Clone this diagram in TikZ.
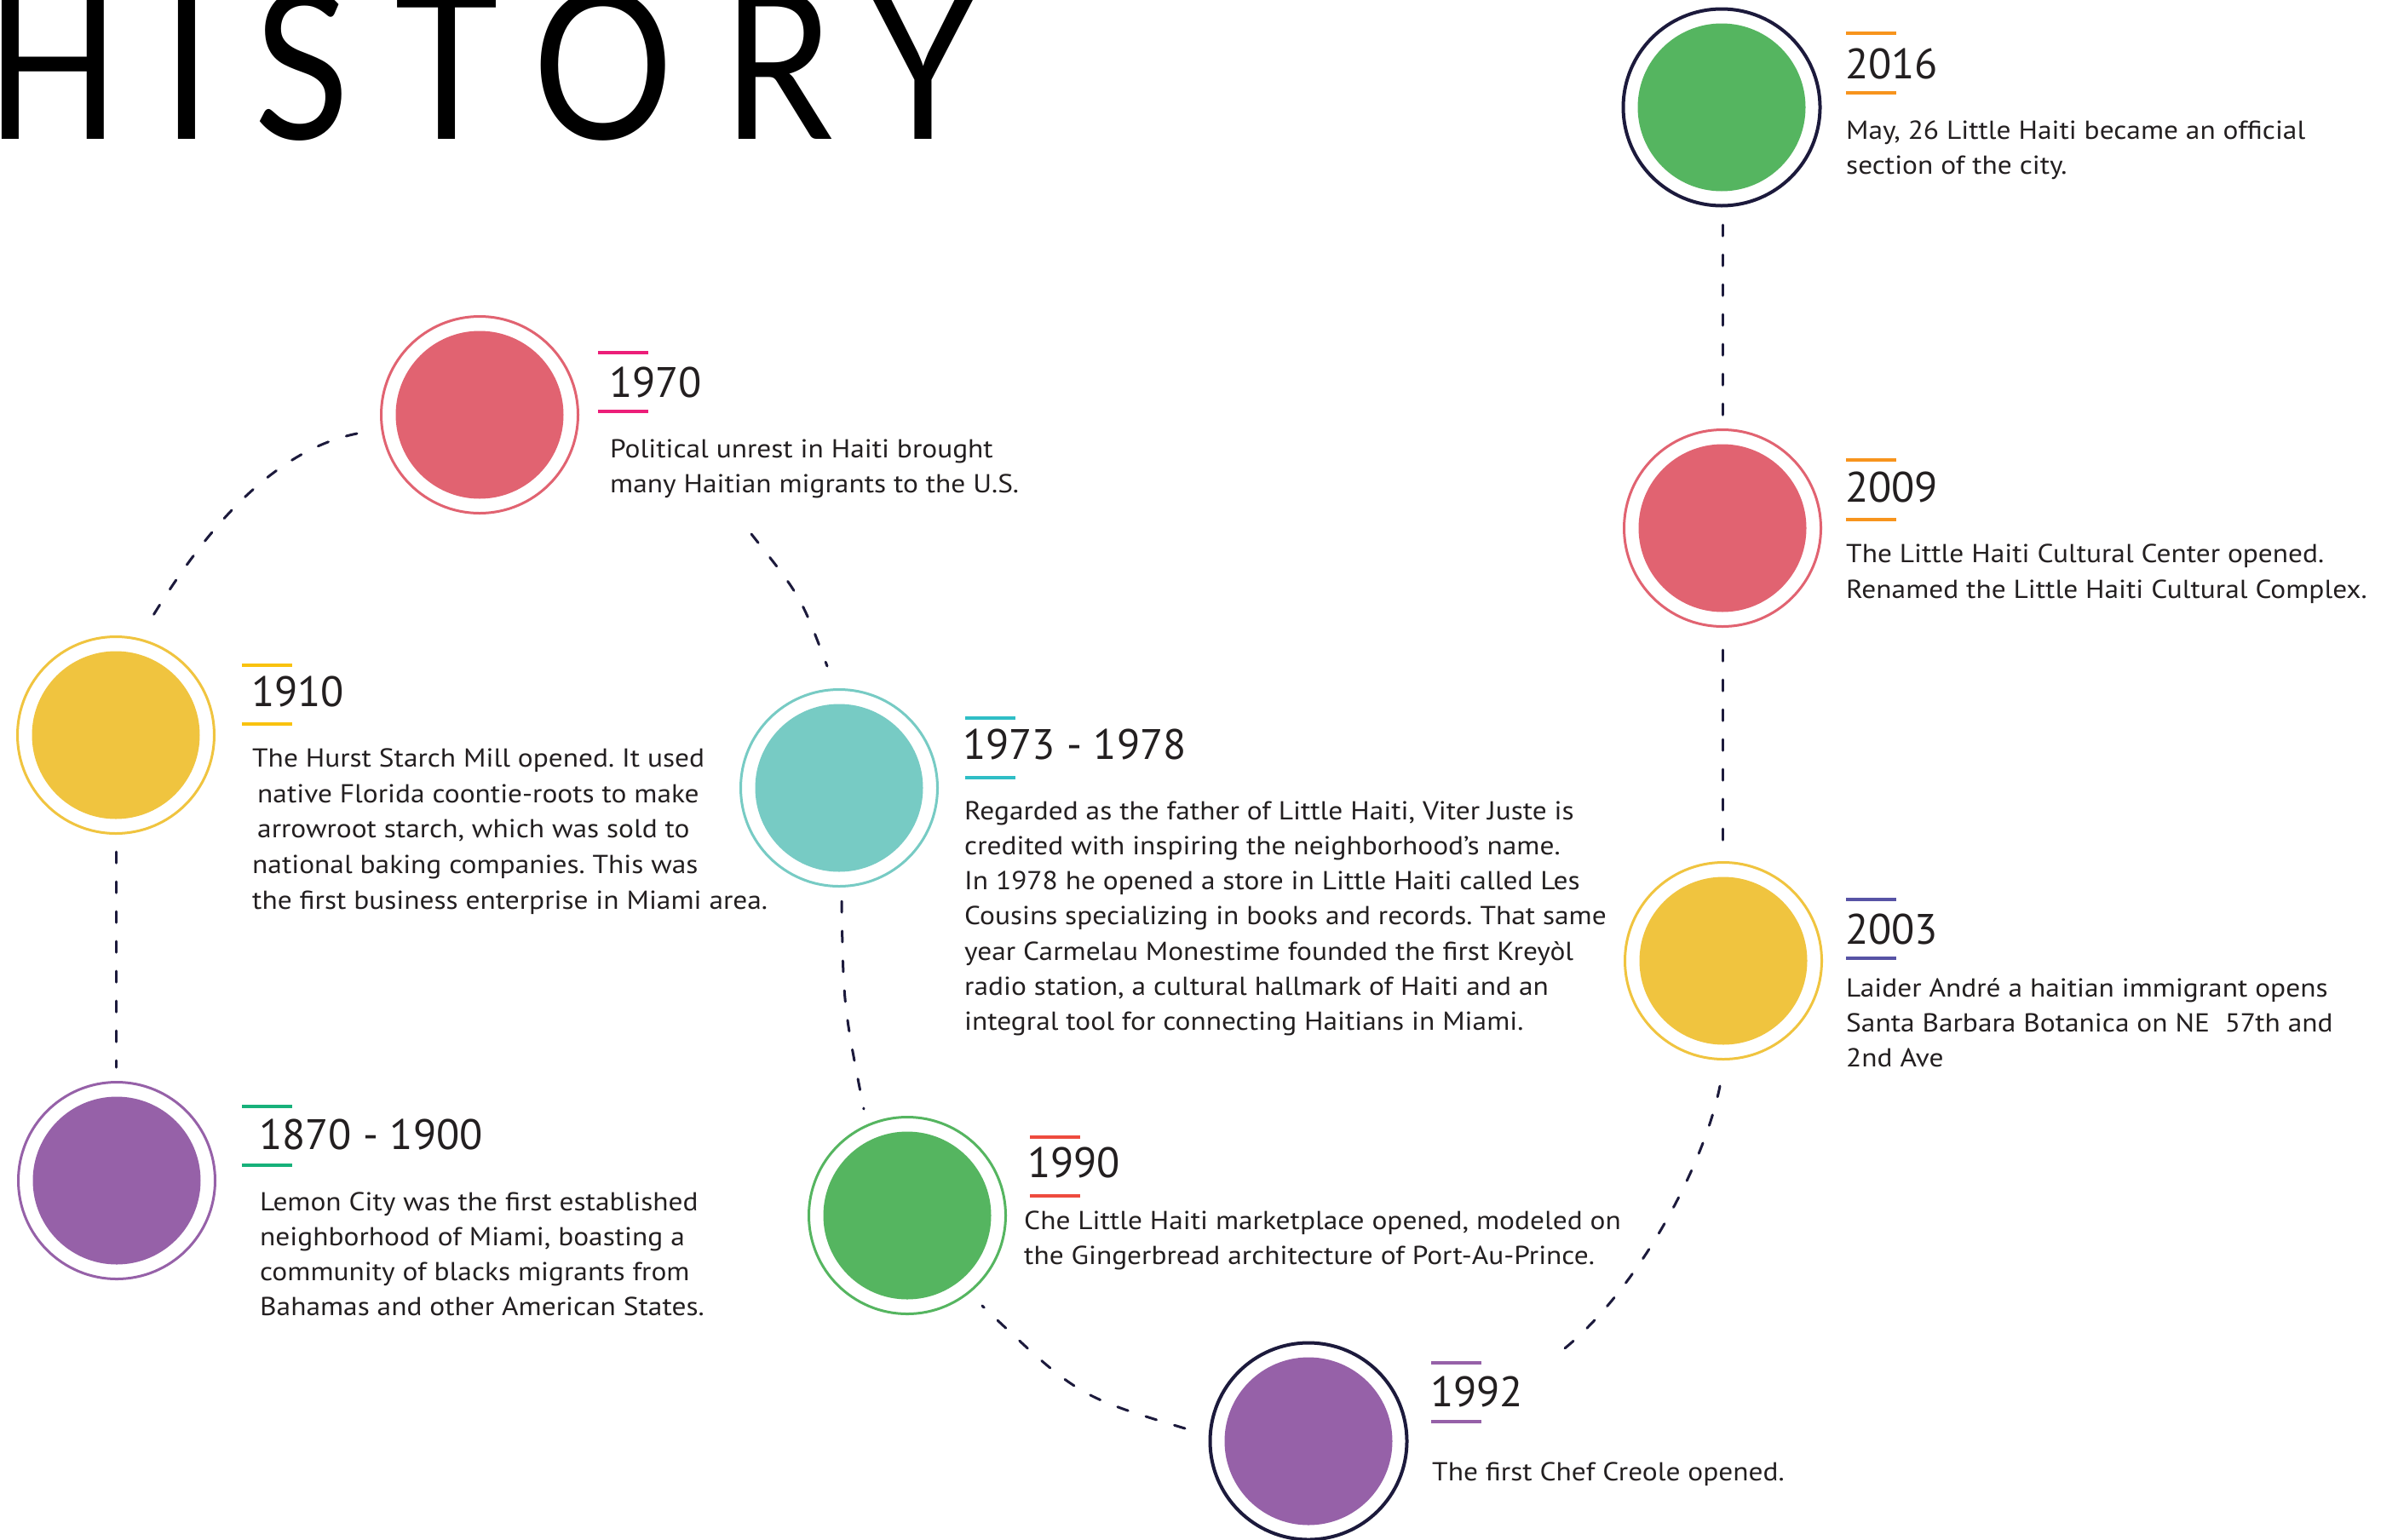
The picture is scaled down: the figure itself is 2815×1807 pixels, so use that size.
\documentclass[tikz,border=0pt]{standalone}
\usepackage{fontspec}
\setmainfont{PT Sans}[FakeStretch=1.095]
\newfontfamily\yearfont{PT Sans}
\newfontfamily\titlefont{Lato}
\frenchspacing
\definecolor{navy}{HTML}{1C1A3C}
\definecolor{ink}{HTML}{231F20}
\definecolor{cgreen}{HTML}{55B560}
\definecolor{cpink}{HTML}{E16371}
\definecolor{cyellow}{HTML}{F0C43F}
\definecolor{cpurple}{HTML}{9661A8}
\definecolor{cteal}{HTML}{77CBC4}
\definecolor{borange}{HTML}{F7941D}
\definecolor{bindigo}{HTML}{5753A5}
\definecolor{bpurple}{HTML}{9661A8}
\definecolor{bred}{HTML}{EE4B3E}
\definecolor{bteal}{HTML}{2FBEC6}
\definecolor{bmagenta}{HTML}{EC1E79}
\definecolor{byellow}{HTML}{F9C20F}
\definecolor{bgreen}{HTML}{17B17A}
\newcommand\yrbar[3]{\fill[#1] (#2,#3-2) rectangle (#2+59,#3+2);}
\begin{document}
\begin{tikzpicture}[x=1pt,y=-1pt,
  ring/.style={circle, draw=#1, line width=3pt, minimum size=231pt, inner sep=0pt},
  disc/.style={circle, fill=#1, minimum size=197pt, inner sep=0pt},
  yeartext/.style={anchor=base west, inner sep=0pt, text=ink, font=\yearfont\fontsize{50pt}{60pt}\selectfont},
  bodytext/.style={anchor=base west, inner sep=0pt, text=ink, font=\fontsize{30.5pt}{41pt}\selectfont},
  conn/.style={draw=navy, line width=3pt, line cap=round, dash pattern=on 13pt off 22pt},
  letter/.style={anchor=base, inner sep=0pt, text=black, font=\titlefont\fontsize{243pt}{243pt}\selectfont}]
\useasboundingbox[fill=white] (0,0) rectangle (2815,1807);

% title
\foreach \ch/\cx in {H/62, I/219.5, S/355, T/524, O/708.5, R/913, Y/1083.5}
  \node[letter] (title-\ch) at (\cx,163) {\scalebox{0.85}[1]{\ch}};

% circles
\node[ring=navy, line width=4pt] (r2016) at (2021,126) {};
\node[disc=cgreen] (c2016) at (2021,126) {};
\node[ring=cpink] (r2009) at (2022,620) {};
\node[disc=cpink] (c2009) at (2022,620) {};
\node[ring=cyellow] (r2003) at (2023,1128) {};
\node[disc=cyellow] (c2003) at (2023,1128) {};
\node[ring=navy, line width=4pt] (r1992) at (1536,1692) {};
\node[disc=cpurple] (c1992) at (1536,1692) {};
\node[ring=cgreen] (r1990) at (1065,1427) {};
\node[disc=cgreen] (c1990) at (1065,1427) {};
\node[ring=cteal] (r1973) at (985,925) {};
\node[disc=cteal] (c1973) at (985,925) {};
\node[ring=cpink] (r1970) at (563,487) {};
\node[disc=cpink] (c1970) at (563,487) {};
\node[ring=cyellow] (r1910) at (136,863) {};
\node[disc=cyellow] (c1910) at (136,863) {};
\node[ring=cpurple] (r1870) at (137,1386) {};
\node[disc=cpurple] (c1870) at (137,1386) {};

% connectors
\coordinate (a1) at (2022,264); \coordinate (b1) at (2022,488);
\coordinate (a2) at (2022,763); \coordinate (b2) at (2022,987);
\coordinate (a3) at (2019,1275); \coordinate (b3) at (1828,1590);
\coordinate (a4) at (1153,1533); \coordinate (b4) at (1391,1677);
\coordinate (a5) at (988,1058); \coordinate (b5) at (1014,1302);
\coordinate (a6) at (882,627); \coordinate (b6) at (971,782);
\coordinate (a7) at (174,732); \coordinate (b7) at (419,509);
\coordinate (a8) at (136,1000); \coordinate (b8) at (136,1253);
\draw[conn] (a1) -- (b1);
\draw[conn] (a2) -- (b2);
\draw[conn] (a3) .. controls (2000,1370) and (1920,1520) .. (b3);
\draw[conn] (b4) .. controls (1265,1639) .. (a4);
\draw[conn] (a5) .. controls (990,1180) .. (b5);
\draw[conn] (a6) .. controls (940,700) .. (b6);
\draw[conn] (b7) .. controls (311,531) and (231,638) .. (a7);
\draw[conn] (a8) -- (b8);

% 2016
\yrbar{borange}{2167}{39} \yrbar{borange}{2167}{109}
\node[yeartext] (y2016) at (2166,92) {2016};
\foreach \ln [count=\i from 0] in {{May, 26 Little Haiti became an official},{section of the city.}}
  \node[bodytext] (t2016-\i) at (2167,163+41*\i) {\ln};

% 2009
\yrbar{borange}{2167}{540} \yrbar{borange}{2167}{610}
\node[yeartext] (y2009) at (2166,589) {2009};
\foreach \ln [count=\i from 0] in {{The Little Haiti Cultural Center opened.},{Renamed the Little Haiti Cultural Complex.}}
  \node[bodytext] (t2009-\i) at (2167,660+42*\i) {\ln};

% 2003
\yrbar{bindigo}{2167}{1056} \yrbar{bindigo}{2167}{1125}
\node[yeartext] (y2003) at (2166,1108) {2003};
\foreach \ln [count=\i from 0] in {{Laider André a haitian immigrant opens},{Santa Barbara Botanica on NE\ \ 57th and},{2nd Ave}}
  \node[bodytext] (t2003-\i) at (2167,1170+41*\i) {\ln};

% 1992
\yrbar{bpurple}{1680}{1600} \yrbar{bpurple}{1680}{1669}
\node[yeartext] (y1992) at (1679,1651) {1992};
\node[bodytext] (t1992-0) at (1681,1738) {The first Chef Creole opened.};

% 1990
\yrbar{bred}{1209}{1335} \yrbar{bred}{1209}{1404}
\node[yeartext] (y1990) at (1206,1382) {1990};
\foreach \ln [count=\i from 0] in {{Che Little Haiti marketplace opened, modeled on},{the Gingerbread architecture of Port-Au-Prince.}}
  \node[bodytext] (t1990-\i) at (1202,1443+41*\i) {\ln};

% 1973 - 1978
\yrbar{bteal}{1133}{843} \yrbar{bteal}{1133}{913}
\node[yeartext] (y1973) at (1130,891) {1973 - 1978};
\foreach \ln [count=\i from 0] in {{Regarded as the father of Little Haiti, Viter Juste is},{credited with inspiring the neighborhood’s name.},{In 1978 he opened a store in Little Haiti called Les},{Cousins specializing in books and records. That same},{year Carmelau Monestime founded the first Kreyòl},{radio station, a cultural hallmark of Haiti and an},{integral tool for connecting Haitians in Miami.}}
  \node[bodytext] (t1973-\i) at (1132,962+41.3*\i) {\ln};

% 1970
\yrbar{bmagenta}{702}{414} \yrbar{bmagenta}{702}{483}
\node[yeartext] (y1970) at (715,466) {1970};
\foreach \ln [count=\i from 0] in {{Political unrest in Haiti brought},{many Haitian migrants to the U.S.}}
  \node[bodytext] (t1970-\i) at (716,537+41*\i) {\ln};

% 1910
\yrbar{byellow}{284}{781} \yrbar{byellow}{284}{850}
\node[yeartext] (y1910) at (295,829) {1910};
\node[bodytext] (t1910-0) at (296,900) {The Hurst Starch Mill opened. It used};
\node[bodytext] (t1910-1) at (302,942) {native Florida coontie-roots to make};
\node[bodytext] (t1910-2) at (302,983) {arrowroot starch, which was sold to};
\node[bodytext] (t1910-3) at (296,1025) {national baking companies. This was};
\node[bodytext] (t1910-4) at (296,1067) {the first business enterprise in Miami area.};

% 1870 - 1900
\yrbar{bgreen}{284}{1299} \yrbar{bgreen}{284}{1368}
\node[yeartext] (y1870) at (304,1349) {1870 - 1900};
\foreach \ln [count=\i from 0] in {{Lemon City was the first established},{neighborhood of Miami, boasting a},{community of blacks migrants from},{Bahamas and other American States.}}
  \node[bodytext] (t1870-\i) at (305,1421+41*\i) {\ln};
\end{tikzpicture}
\end{document}
